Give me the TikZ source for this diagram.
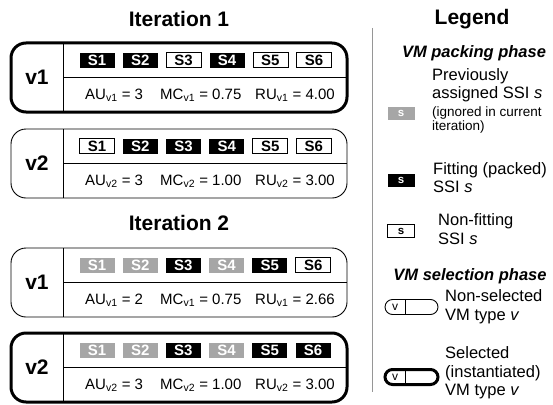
\documentclass[tikz,border=0pt]{standalone}
\usepackage{fontspec}
\setmainfont{Liberation Sans}
\usetikzlibrary{positioning}

\definecolor{prevgray}{RGB}{166,166,166}
\definecolor{sepgray}{RGB}{150,150,150}

\tikzset{
  title/.style={anchor=base, inner sep=0pt, font=\fontsize{21}{25}\selectfont\bfseries},
  phase/.style={anchor=base, inner sep=0pt, font=\fontsize{16.5}{19}\selectfont\bfseries\itshape},
  vm/.style={draw, rounded corners=15pt, minimum width=336pt, minimum height=69pt,
    inner sep=0pt, outer sep=0pt},
  vmsel/.style={vm, line width=3pt},
  vmoff/.style={vm, line width=0.9pt},
  vmname/.style={inner sep=0pt, font=\fontsize{21}{25}\selectfont\bfseries},
  ssi/.style={minimum width=35pt, minimum height=15pt, inner sep=0pt,
    font=\fontsize{15}{17}\selectfont\bfseries},
  packed/.style={ssi, fill=black, text=white},
  nonfit/.style={ssi, draw, line width=0.8pt, fill=white, text=black},
  prev/.style={ssi, fill=prevgray, text=white},
  stat/.style={anchor=west, inner sep=0pt, font=\fontsize{15}{17}\selectfont},
  legbox/.style={minimum width=27pt, minimum height=13pt, inner sep=0pt,
    font=\fontsize{11.5}{13}\selectfont\bfseries},
  legtext/.style={anchor=west, align=left, inner sep=0pt, font=\fontsize{16.5}{18.5}\selectfont},
  legsmall/.style={anchor=west, align=left, inner sep=0pt, font=\fontsize{13.5}{14.5}\selectfont},
  legvm/.style={draw, rounded corners=7.5pt, minimum width=53pt, minimum height=15pt,
    inner sep=0pt, outer sep=0pt},
}

\begin{document}
\begin{tikzpicture}[x=1pt, y=-1pt]
      \useasboundingbox (0,0) rectangle (553,404);
      % Iteration 1
      \node[title] (it1) at (179,27) {Iteration 1};
      % VM v1, selected
      \node[vmsel] (i1v1) at (179,77.5) {};
      \draw[line width=0.9pt] ([xshift=52pt]i1v1.north west) -- ([xshift=52pt]i1v1.south west);
      \draw[line width=0.9pt] ([xshift=52pt]i1v1.west) -- (i1v1.east);
      \node[vmname] (i1v1n) at ([xshift=26pt]i1v1.west) {v1};
      \node[packed] (i1v1s1) at (97,60) {S1};
      \node[packed, right=7.8pt of i1v1s1] (i1v1s2) {S2};
      \node[nonfit, right=7.8pt of i1v1s2] (i1v1s3) {S3};
      \node[packed, right=7.8pt of i1v1s3] (i1v1s4) {S4};
      \node[nonfit, right=7.8pt of i1v1s4] (i1v1s5) {S5};
      \node[nonfit, right=7.8pt of i1v1s5] (i1v1s6) {S6};
      \node[stat] (i1v1au) at (85,95) {AU\textsubscript{v1} = 3};
      \node[stat] (i1v1mc) at (160,95) {MC\textsubscript{v1} = 0.75};
      \node[stat] (i1v1ru) at (255,95) {RU\textsubscript{v1} = 4.00};
      % VM v2, not selected
      \node[vmoff] (i1v2) at (179,163.5) {};
      \draw[line width=0.9pt] ([xshift=52pt]i1v2.north west) -- ([xshift=52pt]i1v2.south west);
      \draw[line width=0.9pt] ([xshift=52pt]i1v2.west) -- (i1v2.east);
      \node[vmname] (i1v2n) at ([xshift=26pt]i1v2.west) {v2};
      \node[nonfit] (i1v2s1) at (97,146) {S1};
      \node[packed, right=7.8pt of i1v2s1] (i1v2s2) {S2};
      \node[packed, right=7.8pt of i1v2s2] (i1v2s3) {S3};
      \node[packed, right=7.8pt of i1v2s3] (i1v2s4) {S4};
      \node[nonfit, right=7.8pt of i1v2s4] (i1v2s5) {S5};
      \node[nonfit, right=7.8pt of i1v2s5] (i1v2s6) {S6};
      \node[stat] (i1v2au) at (85,181) {AU\textsubscript{v2} = 3};
      \node[stat] (i1v2mc) at (160,181) {MC\textsubscript{v2} = 1.00};
      \node[stat] (i1v2ru) at (255,181) {RU\textsubscript{v2} = 3.00};

      % Iteration 2
      \node[title] (it2) at (179,230) {Iteration 2};
      % VM v1, not selected
      \node[vmoff] (i2v1) at (179,282.5) {};
      \draw[line width=0.9pt] ([xshift=52pt]i2v1.north west) -- ([xshift=52pt]i2v1.south west);
      \draw[line width=0.9pt] ([xshift=52pt]i2v1.west) -- (i2v1.east);
      \node[vmname] (i2v1n) at ([xshift=26pt]i2v1.west) {v1};
      \node[prev] (i2v1s1) at (97,265) {S1};
      \node[prev, right=7.8pt of i2v1s1] (i2v1s2) {S2};
      \node[packed, right=7.8pt of i2v1s2] (i2v1s3) {S3};
      \node[prev, right=7.8pt of i2v1s3] (i2v1s4) {S4};
      \node[packed, right=7.8pt of i2v1s4] (i2v1s5) {S5};
      \node[nonfit, right=7.8pt of i2v1s5] (i2v1s6) {S6};
      \node[stat] (i2v1au) at (85,300) {AU\textsubscript{v1} = 2};
      \node[stat] (i2v1mc) at (160,300) {MC\textsubscript{v1} = 0.75};
      \node[stat] (i2v1ru) at (255,300) {RU\textsubscript{v1} = 2.66};
      % VM v2, selected
      \node[vmsel] (i2v2) at (179,367.5) {};
      \draw[line width=0.9pt] ([xshift=52pt]i2v2.north west) -- ([xshift=52pt]i2v2.south west);
      \draw[line width=0.9pt] ([xshift=52pt]i2v2.west) -- (i2v2.east);
      \node[vmname] (i2v2n) at ([xshift=26pt]i2v2.west) {v2};
      \node[prev] (i2v2s1) at (97,350) {S1};
      \node[prev, right=7.8pt of i2v2s1] (i2v2s2) {S2};
      \node[packed, right=7.8pt of i2v2s2] (i2v2s3) {S3};
      \node[prev, right=7.8pt of i2v2s3] (i2v2s4) {S4};
      \node[packed, right=7.8pt of i2v2s4] (i2v2s5) {S5};
      \node[packed, right=7.8pt of i2v2s5] (i2v2s6) {S6};
      \node[stat] (i2v2au) at (85,385) {AU\textsubscript{v2} = 3};
      \node[stat] (i2v2mc) at (160,385) {MC\textsubscript{v2} = 1.00};
      \node[stat] (i2v2ru) at (255,385) {RU\textsubscript{v2} = 3.00};

      % Legend
      \coordinate (septop) at (372,28);
      \coordinate (sepbot) at (372,392);
      \draw[sepgray, line width=0.9pt] (septop) -- (sepbot);
      \node[title] (leg) at (472,25) {Legend};
      \node[phase] (packing) at (474,57) {VM packing phase};
      \node[legbox, fill=prevgray, text=white] (lprev) at (401,113) {s};
      \node[legtext] (lprevt) at (432,85) {Previously\\assigned SSI \textit{s}};
      \node[legsmall] (lprevs) at (432,120) {(ignored in current\\iteration)};
      \node[legbox, fill=black, text=white] (lpack) at (401,180) {s};
      \node[legtext] (lpackt) at (433,177.5) {Fitting (packed)\\SSI \textit{s}};
      \node[legbox, draw, line width=0.8pt, text=black] (lnon) at (401,231) {s};
      \node[legtext] (lnont) at (438,229) {Non-fitting\\SSI \textit{s}};
      \node[phase] (selection) at (470,280) {VM selection phase};
      \node[legvm, line width=0.9pt] (lvmoff) at (411.5,307) {};
      \draw[line width=0.9pt] ([xshift=20pt]lvmoff.north west) -- ([xshift=20pt]lvmoff.south west);
      \node[font=\fontsize{12}{14}\selectfont, inner sep=0pt] (lvmoffv) at ([xshift=10pt]lvmoff.west) {v};
      \node[legtext] (lvmofft) at (445,306.5) {Non-selected\\VM type \textit{v}};
      \node[legvm, line width=3pt] (lvmsel) at (411.5,377) {};
      \draw[line width=0.9pt] ([xshift=20pt]lvmsel.north west) -- ([xshift=20pt]lvmsel.south west);
      \node[font=\fontsize{12}{14}\selectfont, inner sep=0pt] (lvmselv) at ([xshift=10pt]lvmsel.west) {v};
      \node[legtext] (lvmselt) at (445,373) {Selected\\(instantiated)\\VM type \textit{v}};
\end{tikzpicture}
\end{document}
